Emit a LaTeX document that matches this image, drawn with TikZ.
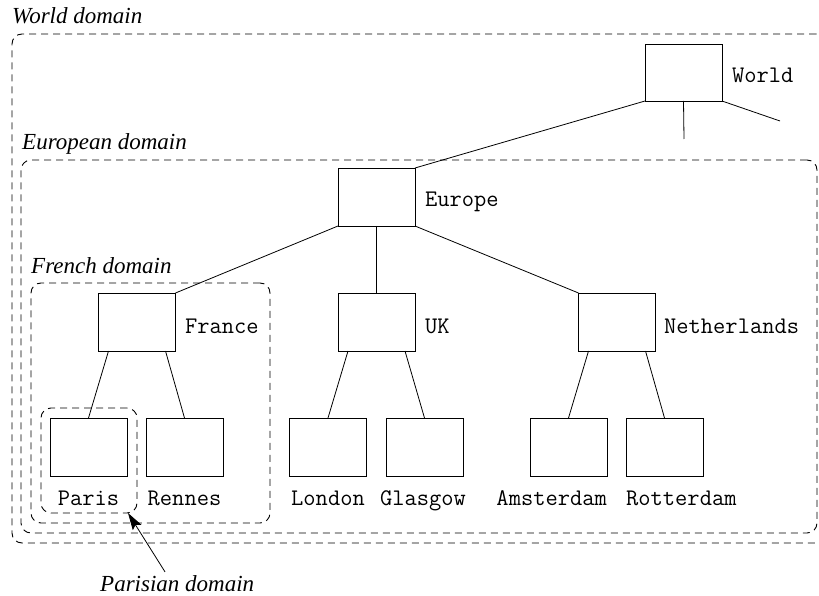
\documentclass[tikz,border=0pt]{standalone}
\usepackage{fontspec}
\setmainfont{Liberation Serif}
\usetikzlibrary{arrows.meta,calc}
\begin{document}
\begin{tikzpicture}[x=1pt,y=-1pt,
  treebox/.style={draw,line width=0.8pt,minimum width=77pt,minimum height=58pt,inner sep=0pt,outer sep=0pt},
  domainbox/.style={draw,line width=0.9pt,dash pattern=on 7pt off 5pt,rounded corners=10pt,inner sep=0pt,outer sep=0pt},
  dlabel/.style={font=\fontsize{23}{27}\selectfont\itshape,inner sep=0pt,anchor=base west},
  nlabel/.style={font=\fontsize{23.8}{27}\selectfont\ttfamily,inner sep=0pt,anchor=base west},
  clabel/.style={nlabel,anchor=base},
  link/.style={line width=0.8pt}]
\useasboundingbox (0,0) rectangle (819,596);

% domains
\node[domainbox,minimum width=814pt,minimum height=509pt] (worlddom) at (419,288.5) {};
\node[domainbox,minimum width=796pt,minimum height=373pt] (eurodom) at (419,346.5) {};
\node[domainbox,minimum width=239pt,minimum height=240pt] (frdom) at (150.5,403) {};
\node[domainbox,minimum width=96pt,minimum height=105pt] (pardom) at (89,460.5) {};

\node[dlabel] (worldlab) at (12,24) {World domain};
\node[dlabel] (eurolab) at (22,150) {European domain};
\node[dlabel] (frlab) at (31,273) {French domain};
\node[dlabel] (parlab) at (100,591) {Parisian domain};

% boxes
\node[treebox,minimum height=57pt] (world) at (683.5,72.5) {};
\node[treebox] (europe) at (376.5,197) {};
\node[treebox] (france) at (137,322) {};
\node[treebox] (uk) at (376.5,322) {};
\node[treebox] (nl) at (617,322) {};
\node[treebox] (paris) at (88.5,447) {};
\node[treebox] (rennes) at (184.5,447) {};
\node[treebox] (london) at (328,447) {};
\node[treebox] (glasgow) at (424.5,447) {};
\node[treebox] (amsterdam) at (568.5,447) {};
\node[treebox] (rotterdam) at (664.5,447) {};

% labels
\node[nlabel] (worldt) at (732,83) {World};
\node[nlabel] (europet) at (425,207) {Europe};
\node[nlabel] (francet) at (185,333) {France};
\node[nlabel] (ukt) at (425,333) {UK};
\node[nlabel] (nlt) at (664,333) {Netherlands};
\node[clabel] (parist) at (88.5,505) {Paris};
\node[clabel] (rennest) at (184.5,505) {Rennes};
\node[clabel] (londont) at (328,505) {London};
\node[clabel] (glasgowt) at (423,505) {Glasgow};
\node[nlabel,anchor=base east] (amsterdamt) at (607,505) {Amsterdam};
\node[nlabel] (rotterdamt) at (626,505) {Rotterdam};

% connectors
\coordinate (stubA) at (684,139);
\coordinate (stubB) at (780,121);
\coordinate (partip) at (128,513);
\draw[link] (world.south west) -- (europe.north east);
\draw[link] (world.south) -- (stubA);
\draw[link] (world.south east) -- (stubB);
\draw[link] (europe.south west) -- (france.north east);
\draw[link] (europe.south) -- (uk.north);
\draw[link] (europe.south east) -- (nl.north west);
\draw[link] ([xshift=10pt]france.south west) -- (paris.north);
\draw[link] ([xshift=-10pt]france.south east) -- (rennes.north);
\draw[link] ([xshift=10pt]uk.south west) -- (london.north);
\draw[link] ([xshift=-10pt]uk.south east) -- (glasgow.north);
\draw[link] ([xshift=10pt]nl.south west) -- (amsterdam.north);
\draw[link] ([xshift=-10pt]nl.south east) -- (rotterdam.north);
\draw[link,-{Stealth[length=17pt,width=10pt,inset=3pt]}] ([xshift=65pt,yshift=3pt]parlab.north west) -- (partip);
\end{tikzpicture}
\end{document}
